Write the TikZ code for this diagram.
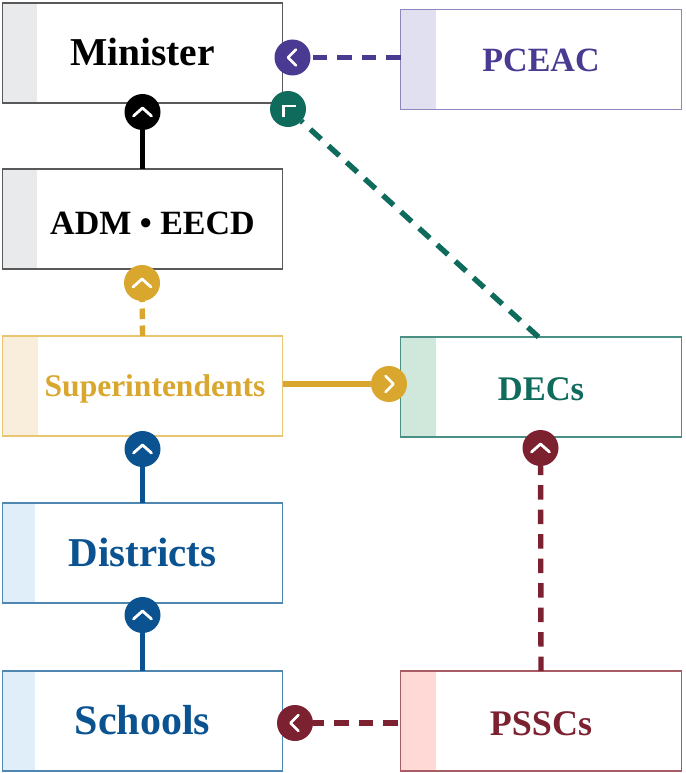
\documentclass[tikz,border=0pt]{standalone}
\usepackage{fontspec}
\setmainfont{Liberation Serif}
\definecolor{cblack}{HTML}{000000}
\definecolor{cpurple}{HTML}{4B3A91}
\definecolor{cgreen}{HTML}{0F6B5C}
\definecolor{cgold}{HTML}{D9A62E}
\definecolor{cblue}{HTML}{0A5390}
\definecolor{ccrim}{HTML}{7C2130}
\definecolor{lblack}{HTML}{595959}
\definecolor{lpurple}{HTML}{8E86BC}
\definecolor{lgreen}{HTML}{4A8F83}
\definecolor{lgold}{HTML}{E8C66F}
\definecolor{lblue}{HTML}{4F87B0}
\definecolor{lcrim}{HTML}{A85C65}
\definecolor{sblack}{HTML}{E8EAEC}
\definecolor{spurple}{HTML}{E1E0F0}
\definecolor{sgreen}{HTML}{D0E8DC}
\definecolor{sgold}{HTML}{F8EEDB}
\definecolor{sblue}{HTML}{E0EEF9}
\definecolor{scrim}{HTML}{FFD9D6}
\newcommand{\lab}[3]{\raisebox{#3pt}[0pt][0pt]{\fontsize{#1}{#1}\selectfont\bfseries #2}}
\newcommand{\chevU}[1]{\draw[chev] ([shift={(-9,4)}]#1.center) -- ([shift={(0,-4)}]#1.center) -- ([shift={(9,4)}]#1.center);}
\newcommand{\chevL}[1]{\draw[chev] ([shift={(3.5,-8)}]#1.center) -- ([shift={(-4.5,0)}]#1.center) -- ([shift={(3.5,8)}]#1.center);}
\newcommand{\chevR}[1]{\draw[chev] ([shift={(-3.5,-8)}]#1.center) -- ([shift={(4.5,0)}]#1.center) -- ([shift={(-3.5,8)}]#1.center);}
\tikzset{
  orgbox/.style n args={4}{draw=#1, fill=white, line width=1.1pt, text=#4,
    minimum width=280.5pt, minimum height=100pt, inner sep=0pt, outer sep=0pt, anchor=center,
    path picture={\fill[fill=#2] (path picture bounding box.north west) rectangle ++(#3,100);}},
  badge/.style={circle, fill=#1, minimum size=36pt, inner sep=0pt, outer sep=0pt},
  chev/.style={white, line width=2.8pt, line cap=round, line join=round},
  solidlink/.style={draw=#1, line width=5.4pt},
  dashlink/.style={draw=#1, line width=5.4pt, dash pattern=on 14.5pt off 10pt},
  shortdash/.style={draw=#1, line width=5.4pt, dash pattern=on 10.5pt off 6.5pt},
}
\begin{document}
\begin{tikzpicture}[x=1pt,y=-1pt]
\useasboundingbox (0,0) rectangle (685,773);
\fill[white] (0,0) rectangle (685,773);
% boxes
\node[orgbox={lblack}{sblack}{35}{black}] (minister) at (142.5,53) {\lab{39.5}{Minister}{-13}};
\node[orgbox={lblack}{sblack}{35}{black}] (adm) at (142.5,219) {\hspace*{20pt}\lab{34}{ADM • EECD}{-15}};
\node[orgbox={lgold}{sgold}{36}{cgold}] (super) at (142.5,386) {\hspace*{25pt}\lab{31.5}{Superintendents}{-10}};
\node[orgbox={lblue}{sblue}{33}{cblue}] (districts) at (142.5,553) {\lab{41}{Districts}{-13}};
\node[orgbox={lblue}{sblue}{33}{cblue}] (schools) at (142.5,721) {\lab{42}{Schools}{-13}};
\node[orgbox={lpurple}{spurple}{35}{cpurple}] (pceac) at (541,59.5) {\lab{34}{PCEAC}{-12}};
\node[orgbox={lgreen}{sgreen}{35}{cgreen}] (decs) at (541,387) {\lab{34.5}{DECs}{-13}};
\node[orgbox={lcrim}{scrim}{35}{ccrim}] (psscs) at (541,721) {\lab{36}{PSSCs}{-14}};
% badges
\node[badge=cblack] (bmin) at (142.5,112) {};
\node[badge=cpurple] (bpur) at (292.5,57.5) {};
\node[badge=cgreen] (bgrn) at (288,109) {};
\node[badge=cgold] (bgold) at (142,283) {};
\node[badge=cblue] (bsup) at (142.5,449) {};
\node[badge=cblue] (bdis) at (142.5,615) {};
\node[badge=cgold] (bdec) at (389,384) {};
\node[badge=ccrim] (bcrim) at (540.5,448) {};
\node[badge=ccrim] (bsch) at (295,723) {};
% connectors
\draw[solidlink=cblack] (adm.north) -- (bmin);
\draw[dashlink=cpurple] (pceac.west |- bpur) -- (bpur);
\draw[dashlink=cgreen] ([xshift=-2.5pt]decs.north) -- (bgrn);
\draw[shortdash=cgold] (super.north) -- (bgold);
\draw[solidlink=cblue] (districts.north) -- (bsup);
\draw[solidlink=cblue] (schools.north) -- (bdis);
\draw[solidlink=cgold] (super.east |- bdec) -- (bdec);
\draw[dashlink=ccrim] (psscs.north) -- (bcrim);
\draw[dashlink=ccrim] (bsch -| psscs.west) ++(-3,0) -- (bsch);
% chevrons
\chevU{bmin}\chevU{bgold}\chevU{bsup}\chevU{bdis}\chevU{bcrim}
\chevL{bpur}\chevL{bsch}\chevR{bdec}
\draw[chev, line cap=butt, line join=miter] ([shift={(-4.5,8)}]bgrn.center) -- ([shift={(-4.5,-3)}]bgrn.center) -- ([shift={(8,-3)}]bgrn.center);
\end{tikzpicture}
\end{document}
